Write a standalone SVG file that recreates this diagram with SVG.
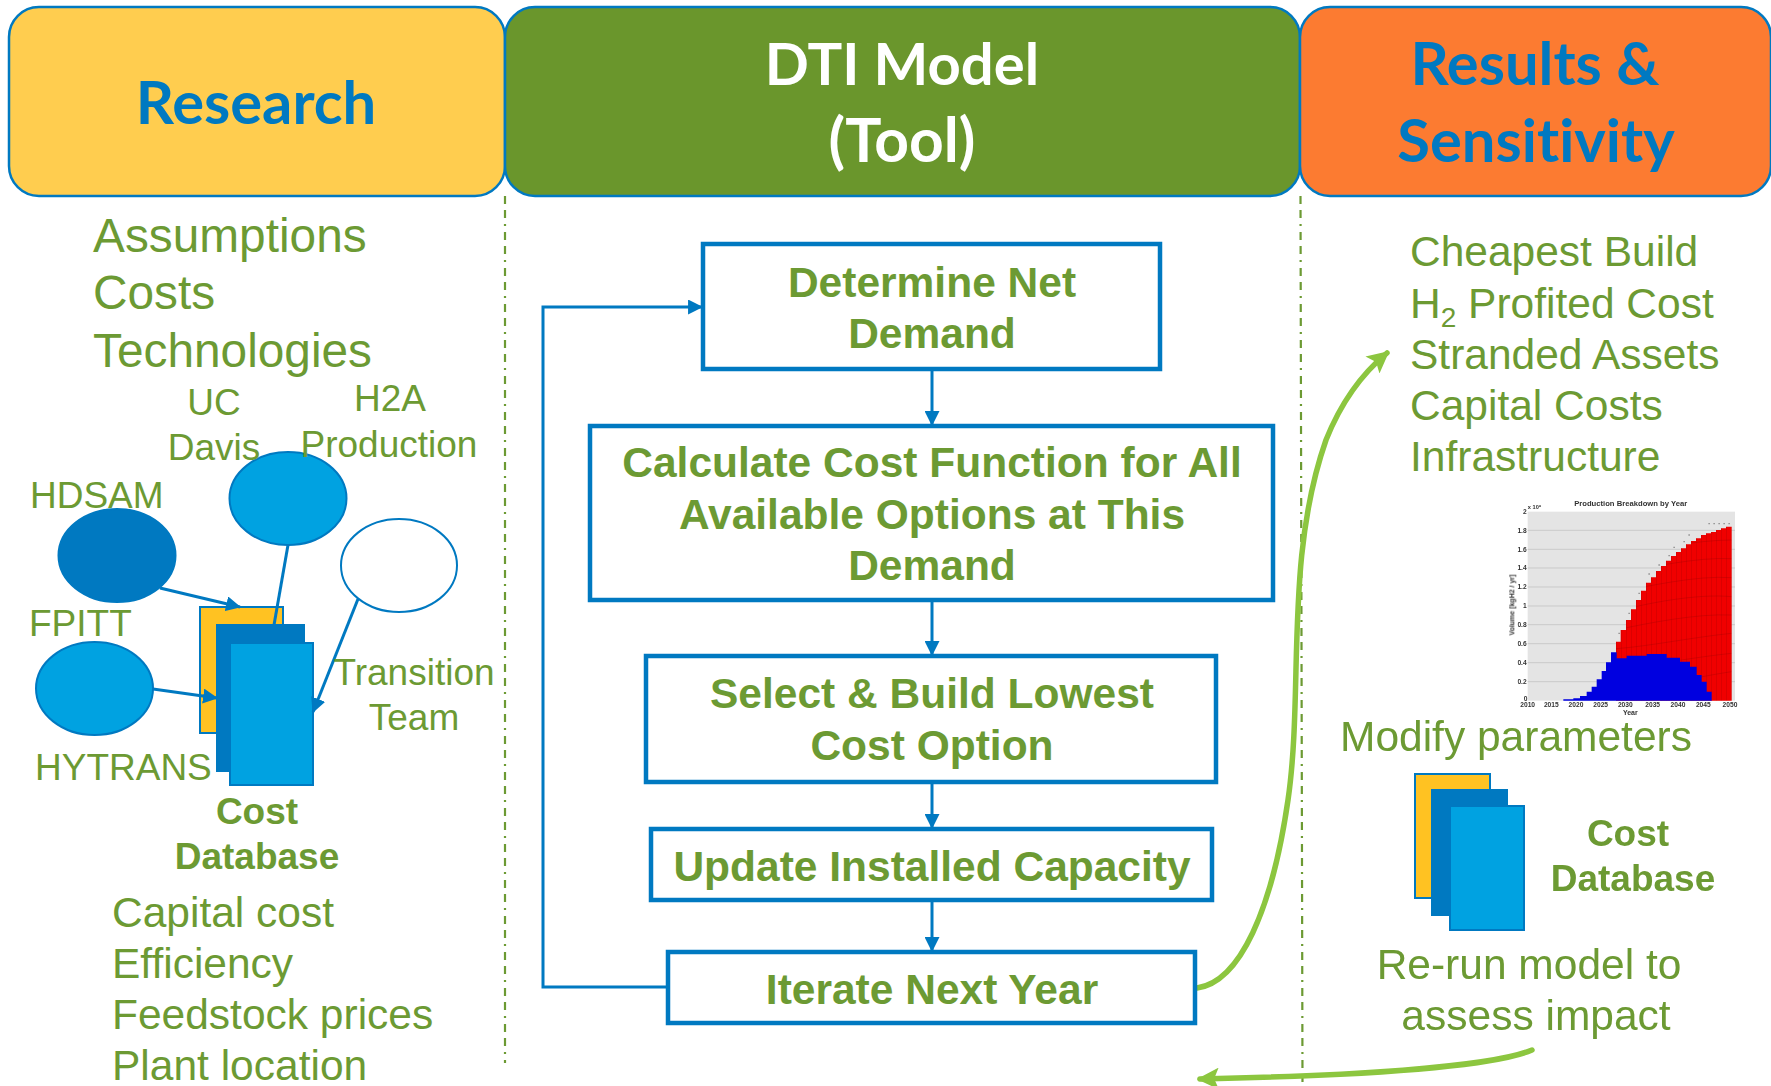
<svg xmlns="http://www.w3.org/2000/svg" width="1771" height="1086" viewBox="0 0 1771 1086">
<defs>
<style>
text{font-family:"Liberation Sans",Arial,sans-serif;fill:#6C9A33}
.h{font-family:Lato,"Open Sans",sans-serif;font-weight:700;font-size:59.700px;text-anchor:middle;font-variant-ligatures:none}
.hb{fill:#0079C1}.hw{fill:#fff}
.l{font-size:42.5px}
.big{font-size:47.800px}
.s{font-size:37px}
.c{text-anchor:middle}
.b{font-weight:700}
.box{font-size:42.500px;font-weight:700;text-anchor:middle}
.hd{stroke:#0079C1;stroke-width:2.5}
.pb{fill:#fff;stroke:#0079C1;stroke-width:4.5}
.con{fill:none;stroke:#0079C1;stroke-width:3}
.grn{fill:none;stroke:#8CC63F;stroke-width:5.5;stroke-linecap:round}
.div{stroke:#6C9A33;stroke-width:2.2;stroke-dasharray:8 6 8 6 2 6;fill:none}
.lt{fill:#00A2E1;stroke:#0079C1;stroke-width:2}
.dk{fill:#0079C1;stroke:#0079C1;stroke-width:2}
.ye{fill:#FFC222;stroke:#0079C1;stroke-width:2}
.ct{fill:#333;font-weight:700}
.tk{font-size:20px;text-anchor:end}
.tx{font-size:20px;text-anchor:middle}
</style>
<marker id="a" viewBox="0 0 14 14" refX="13" refY="7" markerWidth="15" markerHeight="15" markerUnits="userSpaceOnUse" orient="auto"><path d="M0 0L14 7L0 14Z" fill="#0079C1"/></marker>
<marker id="g" viewBox="0 0 14 14" refX="12" refY="7" markerWidth="22" markerHeight="22" markerUnits="userSpaceOnUse" orient="auto"><path d="M0 0L14 7L0 14L3 7Z" fill="#8CC63F"/></marker>
<filter id="bl" x="-5%" y="-5%" width="110%" height="110%"><feGaussianBlur stdDeviation="0.6"/></filter>
<clipPath id="rc"><path d="M408 632V455H422V420H438V390H453V358H468V330H483V302H498V278H513V262H528V243H543V228H558V212H573V198H588V186H603V175H618V163H633V153H648V145H663V135H678V130H693V126H708V120H723V115H738V110H755V632Z"/></clipPath>
</defs>
<rect width="1771" height="1086" fill="#fff"/>

<g id="dividers">
<path class="div" d="M505 196V1063"/>
<path class="div" d="M1300.500 196L1302.500 1086"/>
</g>

<g id="header-research"><rect class="hd" x="9" y="7" width="496" height="189" rx="30" fill="#FFCD4F"/><text class="h hb" x="256" y="124">Research</text></g>
<g id="header-model"><rect class="hd" x="505" y="7" width="795" height="189" rx="30" fill="#6A962C"/><text class="h hw" x="902" y="85" style="font-size:58px">DTI Model</text><text class="h hw" x="902" y="162" style="font-size:60.500px">(Tool)</text></g>
<g id="header-results"><rect class="hd" x="1300" y="7" width="471" height="189" rx="30" fill="#FC7B31"/><text class="h hb" x="1535" y="85">Results &amp;</text><text class="h hb" x="1536" y="162">Sensitivity</text></g>

<g id="research-list">
<text class="big" x="93" y="252">Assumptions</text>
<text class="big" x="93" y="309">Costs</text>
<text class="big" x="93" y="367">Technologies</text>
</g>

<g id="connectors">
<path class="con" d="M668 987H543V307H702" marker-end="url(#a)"/>
<path class="con" d="M932 369V425" marker-end="url(#a)"/>
<path class="con" d="M932 600V655" marker-end="url(#a)"/>
<path class="con" d="M932 782V828" marker-end="url(#a)"/>
<path class="con" d="M932 900V951" marker-end="url(#a)"/>
<path class="grn" d="M1197 988C1240 982 1272 910 1288 800C1304 690 1284 560 1326 440C1342 400 1364 372 1387 353" marker-end="url(#g)"/>
<path class="grn" d="M1532 1050C1490 1068 1340 1076 1200 1079" marker-end="url(#g)"/>
</g>

<g id="node-ucdavis"><ellipse class="lt" cx="288" cy="498.500" rx="58.500" ry="46.500"/></g>
<g id="node-hdsam"><ellipse class="dk" cx="117" cy="555.500" rx="58.500" ry="46.500"/></g>
<g id="node-hytrans"><ellipse class="lt" cx="94.500" cy="688.500" rx="58.500" ry="46.500"/></g>
<g id="node-transition"><ellipse cx="399" cy="565.500" rx="58" ry="46.500" fill="#fff" stroke="#0079C1" stroke-width="2"/></g>

<g id="cost-database-left">
<rect class="ye" x="200" y="607" width="83" height="126"/>
<path class="con" d="M288 545L274 625"/>
<rect class="dk" x="217" y="625" width="87" height="146"/>
<rect class="lt" x="230" y="643" width="83" height="142"/>
<text class="s b c" x="257" y="824">Cost</text>
<text class="s b c" x="257" y="869">Database</text>
</g>
<g id="left-arrows">
<path class="con" d="M160 588L240 607" marker-end="url(#a)"/>
<path class="con" d="M153 689L217 698" marker-end="url(#a)"/>
<path class="con" d="M358 599L313 712" marker-end="url(#a)"/>
</g>

<g id="left-labels">
<text class="s c" x="214" y="415">UC</text>
<text class="s c" x="214" y="460">Davis</text>
<text class="s c" x="390" y="411">H2A</text>
<text class="s c" x="389" y="457">Production</text>
<text class="s" x="30" y="508">HDSAM</text>
<text class="s" x="29" y="636">FPITT</text>
<text class="s" x="35" y="780">HYTRANS</text>
<text class="s c" x="414" y="685">Transition</text>
<text class="s c" x="414" y="730">Team</text>
</g>

<g id="left-params">
<text class="l" x="112" y="927">Capital cost</text>
<text class="l" x="112" y="978">Efficiency</text>
<text class="l" x="112" y="1029">Feedstock prices</text>
<text class="l" x="112" y="1080">Plant location</text>
</g>

<g id="step-net-demand"><rect class="pb" x="703" y="244" width="457" height="125"/><text class="box" x="932" y="296.500">Determine Net</text><text class="box" x="932" y="347.500">Demand</text></g>
<g id="step-cost-function"><rect class="pb" x="590" y="426" width="683" height="174"/><text class="box" x="932" y="476.500">Calculate Cost Function for All</text><text class="box" x="932" y="528.500">Available Options at This</text><text class="box" x="932" y="579.500">Demand</text></g>
<g id="step-select"><rect class="pb" x="646" y="656" width="570" height="126"/><text class="box" x="932" y="707.500">Select &amp; Build Lowest</text><text class="box" x="932" y="759.500">Cost Option</text></g>
<g id="step-update"><rect class="pb" x="651" y="829" width="561" height="71"/><text class="box" x="932" y="880.500">Update Installed Capacity</text></g>
<g id="step-iterate"><rect class="pb" x="668" y="952" width="527" height="71"/><text class="box" x="932" y="1003.500">Iterate Next Year</text></g>

<g id="results-list">
<text class="l" x="1410" y="266">Cheapest Build</text>
<text class="l" x="1410" y="318">H<tspan font-size="28" dy="9">2</tspan><tspan dy="-9"> Profited Cost</tspan></text>
<text class="l" x="1410" y="369">Stranded Assets</text>
<text class="l" x="1410" y="420">Capital Costs</text>
<text class="l" x="1410" y="471">Infrastructure</text>
</g>

<g id="chart" transform="translate(1480 490) scale(.33333)" filter="url(#bl)">
<rect x="143" y="65" width="622" height="567" fill="#E4E4E4"/>
<path d="M143 121H765M143 178H765M143 234H765M143 291H765M143 348H765M143 404H765M143 461H765M143 518H765M143 575H765" stroke="#BDBDBD" stroke-width="2"/>
<path fill="#F00000" d="M408 632V455H422V420H438V390H453V358H468V330H483V302H498V278H513V262H528V243H543V228H558V212H573V198H588V186H603V175H618V163H633V153H648V145H663V135H678V130H693V126H708V120H723V115H738V110H755V632Z"/>
<g clip-path="url(#rc)"><path stroke="#900000" stroke-width="540" stroke-dasharray="2 13" d="M408 370H755" fill="none" opacity=".3"/><path stroke="#900000" stroke-width="2" d="M408 476C500 470 650 440 755 430M408 420C500 400 650 370 755 375M408 364C500 340 650 310 755 320M408 307C500 290 650 255 755 263M408 250C500 235 650 200 755 206M408 194C500 180 650 150 755 150M408 533C500 530 650 500 755 490M408 590C550 590 650 560 755 545" fill="none" opacity=".4"/></g>
<path fill="#0000E0" d="M250 632V628H280V625H300V618H320V605H335V590H350V568H365V543H378V517H393V487H410V505H440V497H500V492H560V503H600V515H630V530H650V555H665V575H680V605H695V632Z"/>
<path d="M415 430h5M445 370h5M475 310h5M505 252h5M535 225h5M565 197h5M580 172h5M610 155h5M625 135h5M685 101h5M700 101h5M715 101h5M730 101h5M745 101h5" stroke="#999" stroke-width="4"/>
<text class="ct" x="452" y="47" text-anchor="middle" font-size="23">Production Breakdown by Year</text>
<text class="ct" x="164" y="58" text-anchor="middle" font-size="17">x 10⁹</text>
<text class="ct tk" x="140" y="72">2</text>
<text class="ct tk" x="140" y="128">1.8</text>
<text class="ct tk" x="140" y="185">1.6</text>
<text class="ct tk" x="140" y="241">1.4</text>
<text class="ct tk" x="140" y="298">1.2</text>
<text class="ct tk" x="140" y="355">1</text>
<text class="ct tk" x="140" y="411">0.8</text>
<text class="ct tk" x="140" y="468">0.6</text>
<text class="ct tk" x="140" y="525">0.4</text>
<text class="ct tk" x="140" y="582">0.2</text>
<text class="ct tk" x="142" y="634">0</text>
<text class="ct tx" x="143" y="651">2010</text>
<text class="ct tx" x="214" y="651">2015</text>
<text class="ct tx" x="288" y="651">2020</text>
<text class="ct tx" x="362" y="651">2025</text>
<text class="ct tx" x="436" y="651">2030</text>
<text class="ct tx" x="518" y="651">2035</text>
<text class="ct tx" x="594" y="651">2040</text>
<text class="ct tx" x="670" y="651">2045</text>
<text class="ct tx" x="750" y="651">2050</text>
<text class="ct" x="451" y="674" text-anchor="middle" font-size="21">Year</text>
<text class="ct" transform="translate(104 345) rotate(-90)" text-anchor="middle" font-size="21">Volume [kgH2 / yr]</text>
</g>

<g id="results-lower">
<text class="l" x="1340" y="751">Modify parameters</text>
<text class="l c" x="1529" y="979">Re-run model to</text>
<text class="l c" x="1536" y="1030">assess impact</text>
</g>

<g id="cost-database-right">
<rect class="ye" x="1415" y="774" width="75" height="124"/>
<rect class="dk" x="1432" y="790" width="75" height="125"/>
<rect class="lt" x="1450" y="806" width="74" height="124"/>
<text class="s b c" x="1628" y="846">Cost</text>
<text class="s b c" x="1633" y="891">Database</text>
</g>
</svg>
